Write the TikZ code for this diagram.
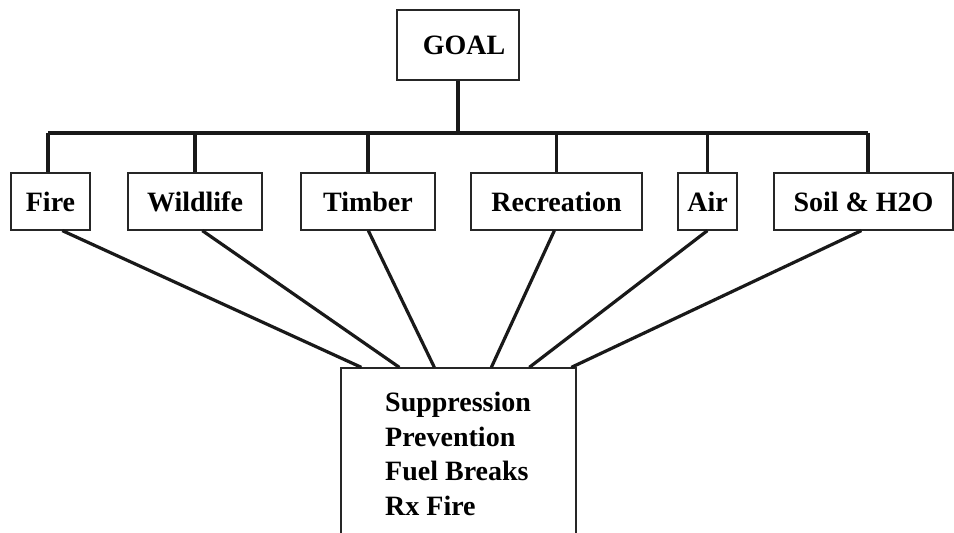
\documentclass[tikz,border=0pt]{standalone}
\usepackage{fontspec}
\setmainfont{Liberation Serif}
\begin{document}
\begin{tikzpicture}[x=1pt,y=-1pt,
  box/.style={draw=black!85,line width=1.3pt,inner sep=0pt,font=\bfseries\fontsize{28}{34.5}\selectfont},
  conn/.style={line width=3.2pt,black!90}]
\useasboundingbox (0,0) rectangle (954,533);
\node[box,minimum width=122pt,minimum height=70pt] (goal) at (458,45) {\hspace*{12pt}GOAL};
\node[box,minimum width=79pt,minimum height=57pt] (fire) at (50.5,201.5) {Fire};
\node[box,minimum width=134pt,minimum height=57pt] (wild) at (195,201.5) {Wildlife};
\node[box,minimum width=134pt,minimum height=57pt] (timb) at (368,201.5) {Timber};
\node[box,minimum width=171pt,minimum height=57pt] (recr) at (556.5,201.5) {Recreation};
\node[box,minimum width=59pt,minimum height=57pt] (air) at (707.5,201.5) {Air};
\node[box,minimum width=179pt,minimum height=57pt] (soil) at (863.5,201.5) {Soil \& H2O};
\node[box,minimum width=235pt,minimum height=200pt] (bot) at (458.5,468) {};
\node[font=\bfseries\fontsize{28}{34.5}\selectfont,align=left,anchor=north west,inner sep=0pt] (list) at (385,392)
  {Suppression\\Prevention\\Fuel Breaks\\Rx Fire};
\coordinate (busL) at (48,133);
\coordinate (busR) at (868,133);
\draw[conn] (busL) -- (busR);
\draw[conn] (goal.south) -- (goal.south |- busL);
\draw[conn] ([xshift=-2.5pt]fire.north) -- ([xshift=-2.5pt]fire.north |- busL);
\draw[conn] (wild.north) -- (wild.north |- busL);
\draw[conn] (timb.north) -- (timb.north |- busL);
\draw[conn] (recr.north) -- (recr.north |- busL);
\draw[conn] (air.north) -- (air.north |- busL);
\draw[conn] ([xshift=4.5pt]soil.north) -- ([xshift=4.5pt]soil.north |- busR);
\draw[conn] ([xshift=52pt]fire.south west) -- ([xshift=21pt]bot.north west);
\draw[conn] ([xshift=75pt]wild.south west) -- ([xshift=59pt]bot.north west);
\draw[conn] ([xshift=68pt]timb.south west) -- ([xshift=94pt]bot.north west);
\draw[conn] ([xshift=84pt]recr.south west) -- ([xshift=151pt]bot.north west);
\draw[conn] ([xshift=30pt]air.south west) -- ([xshift=189pt]bot.north west);
\draw[conn] ([xshift=88pt]soil.south west) -- ([xshift=231pt]bot.north west);
\end{tikzpicture}
\end{document}
